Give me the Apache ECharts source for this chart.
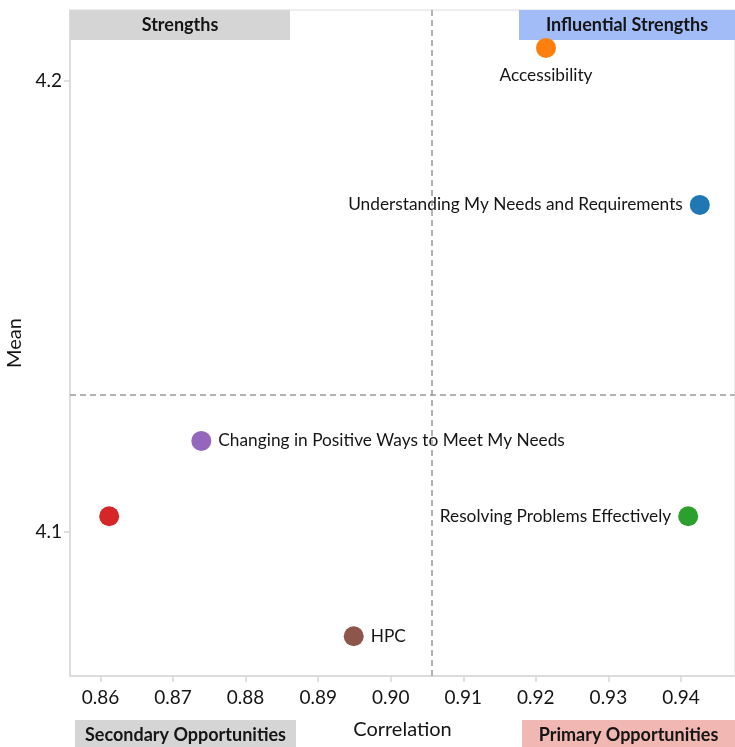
<!DOCTYPE html>
<html>
<head>
<meta charset="utf-8">
<script src="https://cdn.jsdelivr.net/npm/echarts@6/dist/echarts.min.js"></script>
<style>
  html, body { margin: 0; padding: 0; background: #fff; }
  #chart { width: 735px; height: 747px; }
</style>
</head>
<body>
<div id="chart"></div>
<script>
// Attribute names with their correlation to the overall score and mean rating
var attributes = [
  'Accessibility',
  'Understanding My Needs and Requirements',
  'Changing in Positive Ways to Meet My Needs',
  '',
  'Resolving Problems Effectively',
  'HPC'
];
var correlation = [0.9214, 0.9426, 0.8739, 0.8612, 0.9410, 0.8949];
var meanScore   = [4.2073, 4.1725, 4.1202, 4.1035, 4.1035, 4.0769];

// Quadrant dividers (average correlation / average mean)
var corrDivider = 0.9057;
var meanDivider = 4.1304;

// Tick values
var xTicks = [0.86, 0.87, 0.88, 0.89, 0.90, 0.91, 0.92, 0.93, 0.94];
var yTicks = [4.1, 4.2];

// Quadrant captions
var quadrants = ['Strengths', 'Influential Strengths', 'Secondary Opportunities', 'Primary Opportunities'];

// Styling
var palette = ['#ff7f0e', '#1f77b4', '#9467bd', '#d62728', '#2ca02c', '#8c564b'];
var labelSide = ['bottom', 'left', 'right', 'right', 'left', 'right'];
var FONT = 'Lato, "Open Sans", sans-serif';
var INK = '#151515';

var chart = echarts.init(document.getElementById('chart'));

var points = attributes.map(function (name, i) {
  return {
    name: name,
    value: [correlation[i], meanScore[i]],
    itemStyle: { color: palette[i], opacity: 1 },
    label: {
      show: name !== '',
      position: labelSide[i],
      distance: labelSide[i] === 'bottom' ? 9 : 7
    }
  };
});

function captionBox(text, left, top, width, height, fill) {
  return {
    type: 'group',
    left: left,
    top: top,
    children: [
      { type: 'rect', shape: { x: 0, y: 0, width: width, height: height }, style: { fill: fill } },
      {
        type: 'text',
        x: width / 2,
        y: height / 2,
        style: {
          text: text,
          fill: INK,
          font: 'bold 18px ' + FONT,
          align: 'center',
          verticalAlign: 'middle'
        }
      }
    ]
  };
}

chart.setOption({
  animation: false,
  backgroundColor: '#fff',
  grid: {
    left: 70, top: 10, right: 0, bottom: 71,
    containLabel: false,
    outerBoundsMode: 'none',
    show: true, borderColor: '#dcdcdc', borderWidth: 1
  },
  xAxis: {
    type: 'value',
    min: 0.8558,
    max: 0.94745,
    name: 'Correlation',
    nameLocation: 'middle',
    nameGap: 44,
    nameTextStyle: { fontFamily: FONT, fontSize: 20, color: INK },
    axisLine: { show: true, lineStyle: { color: '#d6d6d6', width: 1.5 } },
    axisTick: { show: true, length: 6, customValues: xTicks, lineStyle: { color: '#d6d6d6', width: 1.5 } },
    axisLabel: {
      customValues: xTicks,
      formatter: function (v) { return v.toFixed(2); },
      fontFamily: FONT, fontSize: 19, color: INK, margin: 12
    },
    splitLine: { show: false }
  },
  yAxis: {
    type: 'value',
    min: 4.0681,
    max: 4.2157,
    name: 'Mean',
    nameLocation: 'middle',
    nameGap: 44,
    nameTextStyle: { fontFamily: FONT, fontSize: 20, color: INK },
    axisLine: { show: true, lineStyle: { color: '#d6d6d6', width: 1.5 } },
    axisTick: { show: true, length: 6, customValues: yTicks, lineStyle: { color: '#d6d6d6', width: 1.5 } },
    axisLabel: {
      customValues: yTicks,
      formatter: function (v) { return v.toFixed(1); },
      fontFamily: FONT, fontSize: 19, color: INK, margin: 8
    },
    splitLine: { show: false }
  },
  series: [{
    type: 'scatter',
    symbolSize: 20,
    data: points,
    label: {
      formatter: '{b}',
      fontFamily: FONT,
      fontSize: 17.3,
      color: INK
    },
    emphasis: { disabled: true },
    markLine: {
      silent: true,
      precision: 4,
      symbol: 'none',
      label: { show: false },
      lineStyle: { color: '#9a9a9a', type: [6, 4], width: 1.5 },
      data: [{ xAxis: corrDivider }, { yAxis: meanDivider }]
    },
    z: 3
  }],
  graphic: [
    captionBox(quadrants[0], 70, 10, 220, 30, '#d5d5d5'),
    captionBox(quadrants[1], 519, 10, 216, 30, '#a1bcf7'),
    captionBox(quadrants[2], 75, 720, 221, 30, '#d5d5d5'),
    captionBox(quadrants[3], 522, 720, 213, 30, '#f1b7b2')
  ]
});
</script>
</body>
</html>
